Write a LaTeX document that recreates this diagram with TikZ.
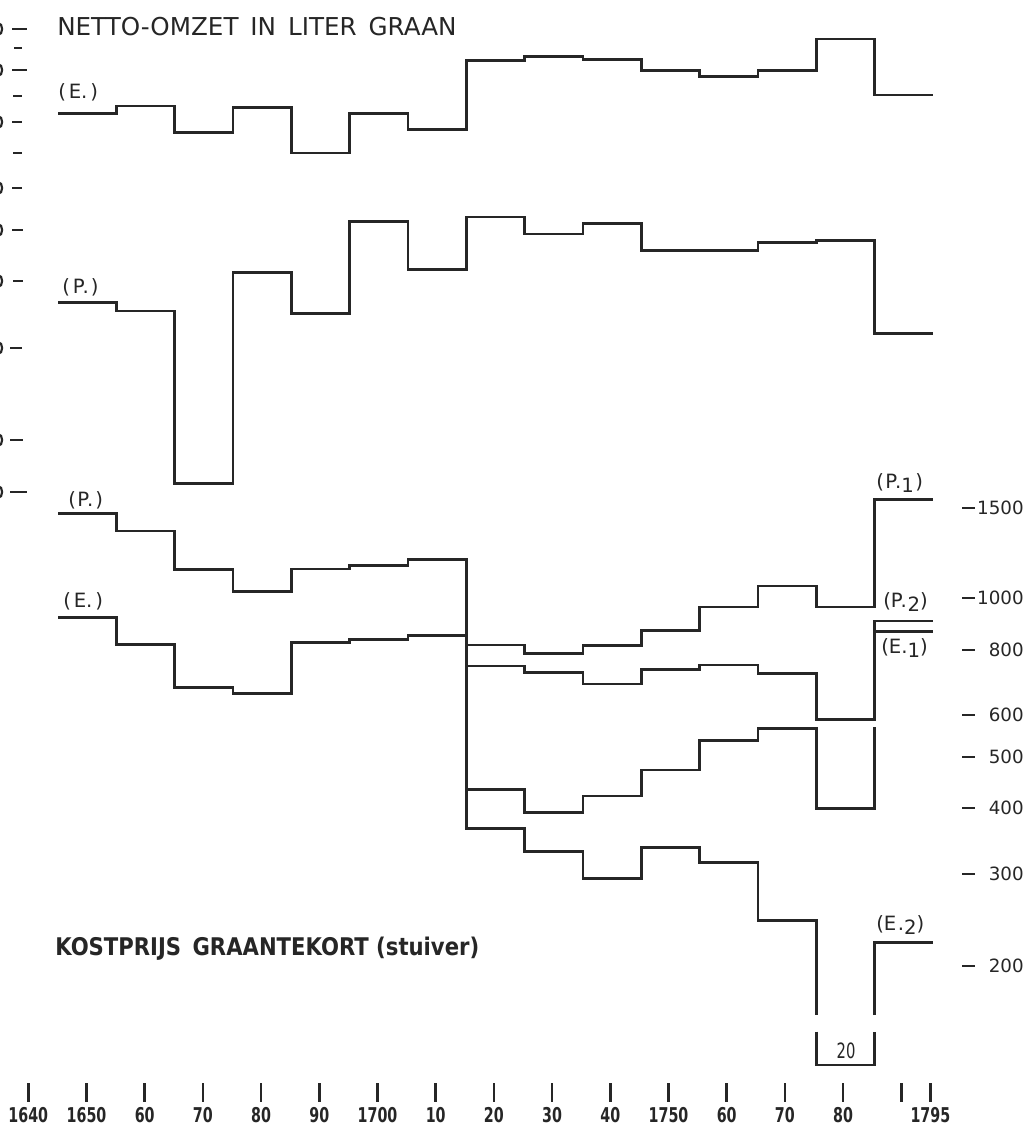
\documentclass[tikz,border=0pt]{standalone}
\usepackage{fontspec}
\setmainfont{DejaVu Sans}
\newfontfamily\yearfont[FakeStretch=0.7]{DejaVu Sans}
\newfontfamily\kostfont[FakeStretch=0.87]{DejaVu Sans}
\definecolor{ink}{HTML}{262626}
\newcommand{\lo}[1]{\raisebox{-0.45ex}{#1}}
\tikzset{
  series/.style={draw=ink, line width=1.75pt, line join=miter},
  tickmark/.style={draw=ink, line width=1.8pt},
  glyph/.style={draw=ink, line width=1.5pt},
  lbl/.style={inner sep=0pt, text=ink, font=\fontsize{14}{16}\selectfont},
  numlbl/.style={inner sep=0pt, text=ink, font=\fontsize{13}{15}\selectfont},
  yearlbl/.style={inner sep=0pt, text=ink, font=\yearfont\bfseries\fontsize{14.5}{16}\selectfont},
  titlelbl/.style={inner sep=0pt, text=ink, font=\fontsize{17.5}{20}\selectfont},
  kostlbl/.style={inner sep=0pt, text=ink, font=\kostfont\bfseries\fontsize{17.3}{20}\selectfont}
}
\begin{document}
\begin{tikzpicture}[x=0.025cm, y=-0.025cm]
\fill[white] (0,0) rectangle (1032,1127);
\path[use as bounding box] (0,0) rectangle (1032,1127);

% ---------- left axis marks (cut off at the edge) ----------
\foreach \yy/\a/\b in {29/12/27, 48/14/22, 70/12/27, 96/13/22, 122/12/22, 153/13/22,
  188/12/22, 230/12/23, 281/13/23, 348/10/22, 440/10/23, 492/10/27}
  \draw[tickmark] (\a,\yy) -- (\b,\yy);
\foreach \yy in {29,70,122,188,230,281,348,440,492}
  \draw[glyph] (-2,{\yy-6}) .. controls (3.5,{\yy-6}) and (3.5,{\yy+6}) .. (-2,{\yy+6});

% ---------- titles and labels ----------
\node[titlelbl, anchor=base west] (title) at (57,35) {NETTO-OMZET\, IN\, LITER\, GRAAN};
\node[lbl, anchor=base west] (lEtop) at (58,98) {(\kern2pt E.\kern2pt)};
\node[lbl, anchor=base west] (lPmid) at (62,293) {(\kern2pt P\kern-1.5pt.\kern1.5pt)};
\node[lbl, anchor=base west] (lPlow) at (68,506) {(\kern1pt P\kern-1.5pt.\kern1.5pt)};
\node[lbl, anchor=base west] (lElow) at (63,607) {(\kern2pt E.\kern2pt)};
\node[lbl, anchor=base west] (lP1) at (876,488) {(\kern1pt P\kern-1.5pt.\lo{1}\kern1pt)};
\node[lbl, anchor=base west] (lP2) at (883,607) {(P\kern-1.5pt.\kern0.5pt\lo{2})};
\node[lbl, anchor=base west] (lE1) at (881,653) {(E.\lo{1})};
\node[lbl, anchor=base west] (lE2) at (876,930) {(E\kern1pt.\lo{2})};
\node[kostlbl, anchor=base west] (kost) at (55,955) {KOSTPRIJS\, GRAANTEKORT (stuiver)};
\node[yearlbl, font=\yearfont\fontsize{15}{17}\selectfont] (twenty) at (846,1050.5) {20};

% ---------- upper panel: netto-omzet ----------
\draw[series] (58,113.3) -| (116.3,106) -| (174.7,132.7) -| (233,107.7) -| (291.3,153)
  -| (349.7,113.7) -| (408,129.3) -| (466.3,60.5) -| (524.7,56.7) -| (583,59.3)
  -| (641.3,70.7) -| (699.7,76.7) -| (758,70.7) -| (816.3,39) -| (874.7,95) -- (933,95);

\draw[series] (58,302.7) -| (116.3,311) -| (174.7,483.3) -| (233,272.3) -| (291.3,313.3)
  -| (349.7,221.7) -| (408,269.3) -| (466.3,217) -| (524.7,234) -| (583,223.3)
  -| (641.3,250.7) -| (758,242.3) -| (816.3,240.7) -| (874.7,333.7) -- (933,333.7);

% ---------- lower panel: kostprijs ----------
\draw[series] (58,513.3) -| (116.3,531) -| (174.7,569.3) -| (233,591.7) -| (291.3,569)
  -| (349.7,565.7) -| (408,559.3) -| (466.3,828.3) -| (524.7,851.5) -| (583,878.3)
  -| (641.3,847.7) -| (699.7,862.3) -| (758,920.5) -| (816.3,1015);

\draw[series] (58,617.7) -| (116.3,644.3) -| (174.7,687.7) -| (233,693.3) -| (291.3,642.3)
  -| (349.7,639.3) -| (408,635.7) -- (466.3,635.7);

\draw[series] (466.3,645) -| (524.7,653.3) -| (583,645.5) -| (641.3,630.7) -| (699.7,607)
  -| (758,586) -| (816.3,607) -| (874.7,499.3) -- (933,499.3);

\draw[series] (466.3,666) -| (524.7,672.5) -| (583,684.2) -| (641.3,669.3) -| (699.7,665)
  -| (758,673.3) -| (816.3,719.3) -| (874.7,621) -- (933,621);
\draw[series] (874.7,631.7) -- (933,631.7);

\draw[series] (466.3,789.3) -| (524.7,812.7) -| (583,796) -| (641.3,770) -| (699.7,740.7)
  -| (758,728.3) -| (816.3,808.3) -| (874.7,726.7);

\draw[series] (874.7,1015) |- (933,942.5);
\draw[series] (816.3,1031.7) |- (874.7,1065) -- (874.7,1031.7);

% ---------- right axis ----------
\foreach \yy/\t in {508.3/1500, 598.3/1000, 650/800, 715/600, 757.3/500, 807.7/400, 874/300, 966/200}{
  \draw[tickmark, line width=1.5pt] (962,\yy) -- (975,\yy);
  \node[numlbl, anchor=east] (r\t) at (1024,\yy) {\t};
}

% ---------- bottom time axis ----------
\foreach \k/\t in {0/1640,1/1650,2/60,3/70,4/80,5/90,6/1700,7/10,8/20,9/30,10/40,11/1750,12/60,13/70,14/80}{
  \draw[tickmark] ({28.3+58.2*\k},1083) -- ({28.3+58.2*\k},1102);
  \node[yearlbl] (yr\k) at ({28.3+58.2*\k},1115) {\t};
}
\draw[tickmark] (901.3,1083) -- (901.3,1102);
\draw[tickmark] (930.4,1083) -- (930.4,1102);
\node[yearlbl] (yr95) at (930.4,1115) {1795};
\end{tikzpicture}
\end{document}
